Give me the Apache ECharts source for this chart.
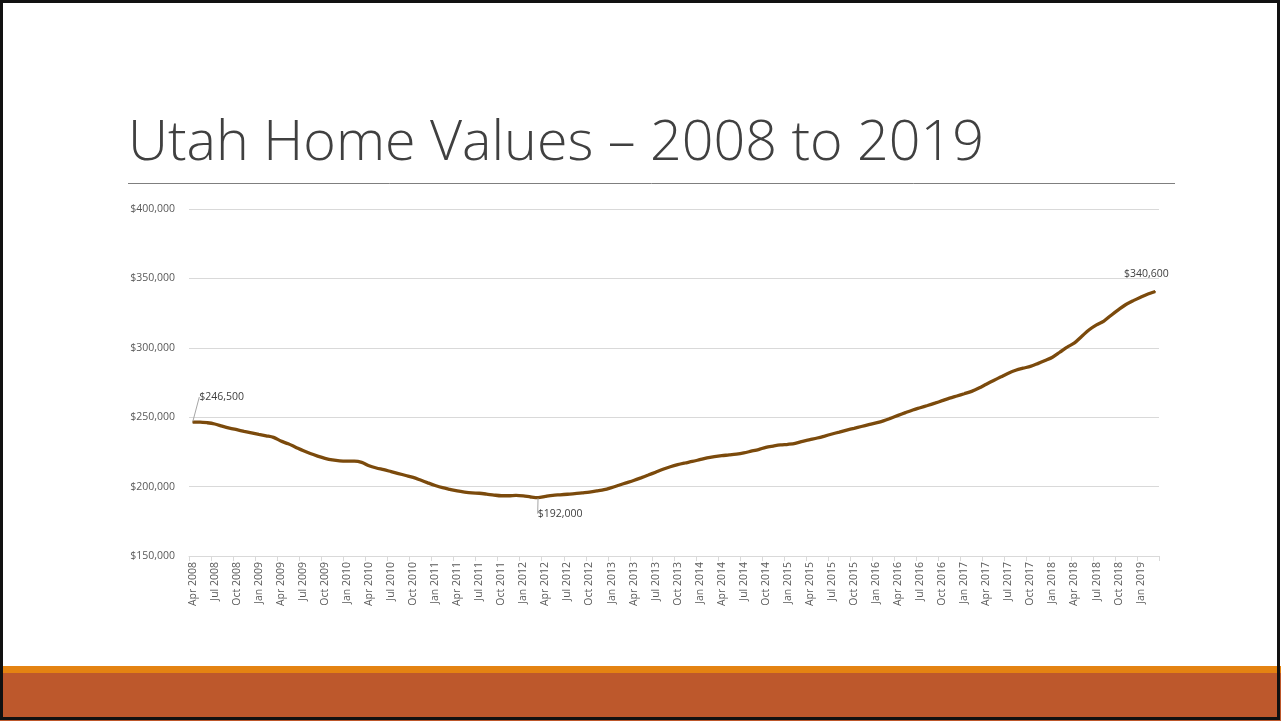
<!DOCTYPE html>
<html>
<head>
<meta charset="utf-8">
<script src="https://cdn.jsdelivr.net/npm/echarts@6/dist/echarts.min.js"></script>
<style>
  html, body { margin: 0; padding: 0; background: #fff; }
  #chart { width: 1281px; height: 721px; }
</style>
</head>
<body>
<div id="chart"></div>
<script>
// 月份：2008年4月 ~ 2019年3月
var months = ['Jan', 'Feb', 'Mar', 'Apr', 'May', 'Jun', 'Jul', 'Aug', 'Sep', 'Oct', 'Nov', 'Dec'];
var categories = [];
for (var k = 0; k < 132; k++) {
  var m = (3 + k) % 12;
  var y = 2008 + Math.floor((3 + k) / 12);
  categories.push(months[m] + ' ' + y);
}

// 犹他州房屋价值（按月，读图估计）
var homeValues = [
  246500, 246500, 246000, 245100, 243600, 242200, 241000, 239800, 238700, 237600, 236600, 235500,
  232800, 230800, 228400, 226000, 223800, 222000, 220400, 219200, 218500, 218300, 218400, 217500,
  215000, 213400, 212200, 210800, 209400, 208000, 206600, 204700, 202700, 200800, 199200, 198000,
  196900, 196100, 195500, 195200, 194600, 193900, 193400, 193400, 193700, 193300, 192500, 192000,
  192900, 193700, 194100, 194500, 194900, 195500, 196100, 196900, 197800, 199300, 201000, 202700,
  204400, 206300, 208300, 210400, 212500, 214300, 215800, 217000, 218100, 219400, 220700, 221600,
  222300, 222800, 223400, 224300, 225500, 226700, 228300, 229200, 230000, 230500, 231200, 232600,
  233800, 235000, 236400, 237900, 239300, 240700, 242000, 243300, 244600, 245900, 247400, 249300,
  251300, 253300, 255200, 256800, 258400, 260100, 261900, 263700, 265300, 266900, 268600, 271000,
  273800, 276500, 279100, 281700, 283800, 285300, 286600, 288600, 290800, 293200, 296800, 300500,
  303500, 308300, 313000, 316500, 319300, 323500, 327500, 331200, 334000, 336500, 338800, 340600
];

// 需要标注的点：索引 -> 标签位置与偏移
var labelPoints = {
  0: { position: 'top', dx: 29, dy: -14, line: true },
  47: { position: 'bottom', dx: 22, dy: 5, line: true },
  131: { position: 'top', dx: -9, dy: -6, line: false }
};

var yTicks = { min: 150000, max: 400000, interval: 50000 };

var chart = echarts.init(document.getElementById('chart'));

var seriesData = homeValues.map(function (v, i) {
  var item = { value: v };
  if (labelPoints[i]) {
    item.label = { show: true, position: labelPoints[i].position };
    item.labelLine = { show: labelPoints[i].line };
  }
  return item;
});

var option = {
  backgroundColor: '#ffffff',
  animation: false,
  textStyle: { fontFamily: '"Open Sans", "Noto Sans", sans-serif' },
  grid: { left: 189, right: 122, top: 209, bottom: 165 },
  xAxis: {
    type: 'category',
    data: categories,
    boundaryGap: true,
    axisLine: { lineStyle: { color: '#d9d9d9', width: 1 } },
    axisTick: { show: true, interval: 2, length: 5, lineStyle: { color: '#d9d9d9' } },
    axisLabel: {
      interval: 2,
      rotate: 90,
      color: '#595959',
      fontSize: 10.5,
      margin: 6
    },
    splitLine: { show: false }
  },
  yAxis: {
    type: 'value',
    min: yTicks.min,
    max: yTicks.max,
    interval: yTicks.interval,
    axisLine: { show: false },
    axisTick: { show: false },
    axisLabel: {
      color: '#595959',
      fontSize: 10.5,
      margin: 14,
      formatter: function (v) { return '$' + v.toLocaleString('en-US'); }
    },
    splitLine: { lineStyle: { color: '#d9d9d9', width: 1 } }
  },
  series: [{
    type: 'line',
    data: seriesData,
    smooth: 0.3,
    showSymbol: true,
    showAllSymbol: true,
    symbol: 'circle',
    symbolSize: 1,
    itemStyle: { color: '#7b4a0c' },
    lineStyle: { color: '#7b4a0c', width: 3.3 },
    label: {
      show: false,
      color: '#404040',
      fontSize: 10.5,
      formatter: function (p) { return '$' + p.value.toLocaleString('en-US'); }
    },
    labelLine: { show: true, lineStyle: { color: '#a6a6a6', width: 1 } },
    labelLayout: function (params) {
      var s = labelPoints[params.dataIndex];
      return s ? { dx: s.dx, dy: s.dy } : {};
    }
  }],
  graphic: [
    // 幻灯片边框
    { type: 'rect', shape: { x: 1.5, y: 1.5, width: 1277, height: 717 }, style: { fill: 'none', stroke: '#111', lineWidth: 3 }, z: 100 },
    // 标题
    {
      type: 'text', left: 128, top: 116,
      style: { text: 'Utah Home Values \u2013 2008 to 2019', fill: '#404040', font: '300 55.6px "Open Sans", "Noto Sans", sans-serif' }
    },
    // 标题下划线
    { type: 'line', shape: { x1: 128, y1: 183.5, x2: 1175, y2: 183.5 }, style: { stroke: '#7f7f7f', lineWidth: 1 } },
    // 底部色条
    { type: 'rect', shape: { x: 0, y: 666, width: 1281, height: 7 }, style: { fill: '#e48312' } },
    { type: 'rect', shape: { x: 0, y: 673, width: 1281, height: 48 }, style: { fill: '#bd582c' } }
  ]
};

chart.setOption(option);
</script>
</body>
</html>
